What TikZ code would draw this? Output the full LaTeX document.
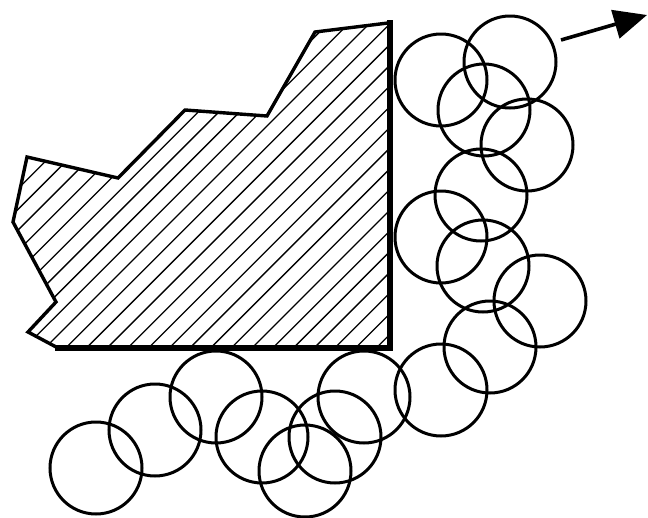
\documentclass[tikz,border=0pt]{standalone}
\usetikzlibrary{arrows.meta}
\begin{document}
\begin{tikzpicture}[x=1pt,y=-1pt,
  ring/.style={draw=black,line width=3pt,circle,minimum size=92pt,inner sep=0pt},
  outline/.style={draw=black,line width=3.4pt,line join=miter},
  heavy/.style={draw=black,line width=6pt,line cap=rect},
  hatch/.style={draw=black,line width=1.3pt},
  motion/.style={draw=black,line width=3.6pt,-{Triangle[length=33pt,width=29pt]}}]
\useasboundingbox (0,0) rectangle (648,517);
% hatched body
\begin{scope}
\clip (388,23) -- (315,32) -- (267,116) -- (185,110) -- (118,178) -- (27,157)
  -- (13,222) -- (56,302) -- (28,332) -- (58,348) -- (390,347) -- cycle;
\foreach \k in {-20,...,25} {
  \pgfmathsetmacro{\c}{413.7+20.7*\k}
  \draw[hatch] (\c,0) -- ({\c-600},600);
}
\end{scope}
\draw[outline] (388,23) -- (315,32) -- (267,116) -- (185,110) -- (118,178) -- (27,157)
  -- (13,222) -- (56,302) -- (28,332) -- (58,348);
\draw[heavy] (58,348) -- (390,348) -- (390,23);
% particles
\node[ring] (c1) at (441,80) {};
\node[ring] (c2) at (510,62) {};
\node[ring] (c3) at (484,110) {};
\node[ring] (c4) at (527,145) {};
\node[ring] (c5) at (481,195) {};
\node[ring] (c6) at (441,237) {};
\node[ring] (c7) at (483,266) {};
\node[ring] (c8) at (540,301) {};
\node[ring] (c9) at (490,347) {};
\node[ring] (c10) at (441,390) {};
\node[ring] (c11) at (364,397) {};
\node[ring] (c12) at (335,437) {};
\node[ring] (c13) at (305,471) {};
\node[ring] (c14) at (262,437) {};
\node[ring] (c15) at (216,397) {};
\node[ring] (c16) at (155,430) {};
\node[ring] (c17) at (96,468) {};
% arrow
\coordinate (a0) at (561,40);
\coordinate (a1) at (647,15);
\draw[motion] (a0) -- (a1);
\end{tikzpicture}
\end{document}
